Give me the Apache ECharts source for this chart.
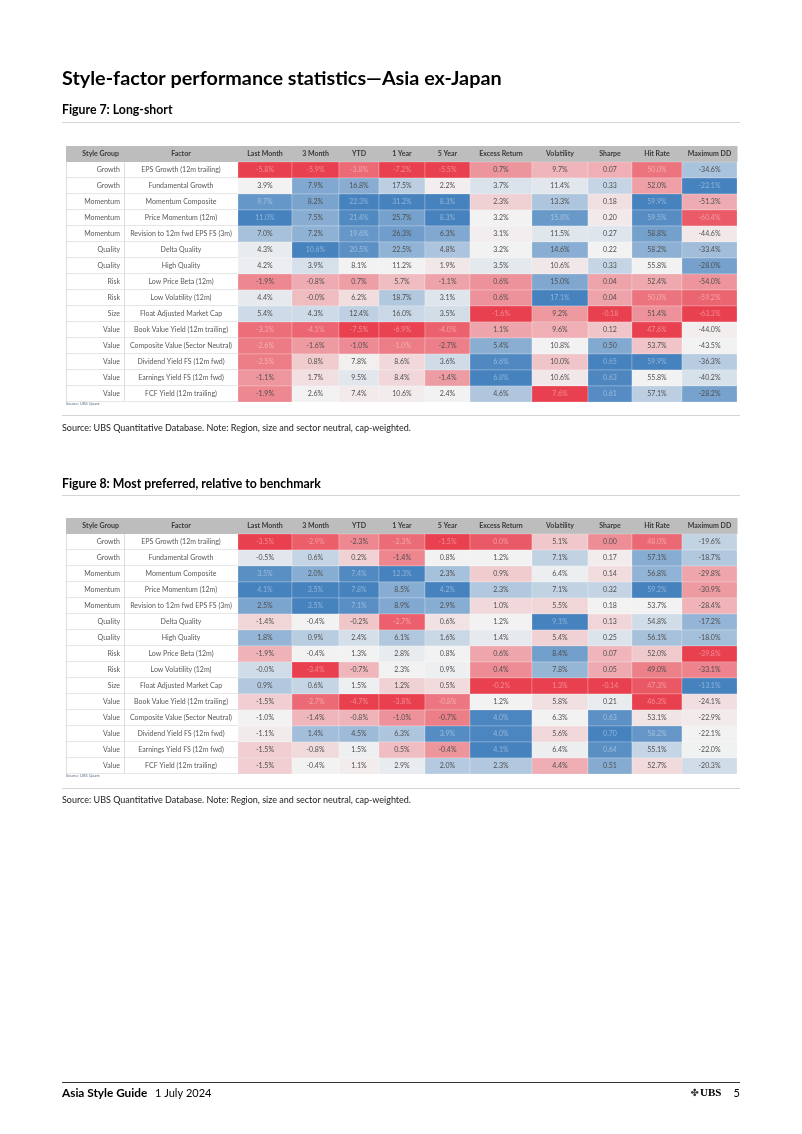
<!DOCTYPE html>
<html>
<head>
<meta charset="utf-8">
<script src="https://cdn.jsdelivr.net/npm/echarts@6.0.0/dist/echarts.min.js"></script>
<style>
html,body{margin:0;padding:0;background:#fff;}
#chart{width:802px;height:1134px;}
</style>
</head>
<body>
<div id="chart"></div>
<script>
// ---------- DATA ----------
const columns = ['Style Group','Factor','Last Month','3 Month','YTD','1 Year','5 Year','Excess Return','Volatility','Sharpe','Hit Rate','Maximum DD'];
const styleGroups = ['Growth','Growth','Momentum','Momentum','Momentum','Quality','Quality','Risk','Risk','Size','Value','Value','Value','Value','Value'];
const factors = ['EPS Growth (12m trailing)','Fundamental Growth','Momentum Composite','Price Momentum (12m)','Revision to 12m fwd EPS FS (3m)','Delta Quality','High Quality','Low Price Beta (12m)','Low Volatility (12m)','Float Adjusted Market Cap','Book Value Yield (12m trailing)','Composite Value (Sector Neutral)','Dividend Yield FS (12m fwd)','Earnings Yield FS (12m fwd)','FCF Yield (12m trailing)'];

// Figure 7: Long-short
const lsLastMonth = [-5.8, 3.9, 9.7, 11.0, 7.0, 4.3, 4.2, -1.9, 4.4, 5.4, -3.3, -2.6, -2.5, -1.1, -1.9];
const ls3Month    = [-5.9, 7.9, 8.2, 7.5, 7.2, 10.6, 3.9, -0.8, -0.0, 4.3, -4.1, -1.6, 0.8, 1.7, 2.6];
const lsYTD       = [-3.8, 16.8, 22.3, 21.4, 19.6, 20.5, 8.1, 0.7, 6.2, 12.4, -7.5, -1.0, 7.8, 9.5, 7.4];
const ls1Year     = [-7.2, 17.5, 31.2, 25.7, 26.3, 22.5, 11.2, 5.7, 18.7, 16.0, -6.9, -1.0, 8.6, 8.4, 10.6];
const ls5Year     = [-5.5, 2.2, 8.3, 8.3, 6.3, 4.8, 1.9, -1.1, 3.1, 3.5, -4.0, -2.7, 3.6, -1.4, 2.4];
const lsExcess    = [0.7, 3.7, 2.3, 3.2, 3.1, 3.2, 3.5, 0.6, 0.6, -1.6, 1.1, 5.4, 6.6, 6.8, 4.6];
const lsVol       = [9.7, 11.4, 13.3, 15.8, 11.5, 14.6, 10.6, 15.0, 17.1, 9.2, 9.6, 10.8, 10.0, 10.6, 7.6];
const lsSharpe    = [0.07, 0.33, 0.18, 0.20, 0.27, 0.22, 0.33, 0.04, 0.04, -0.18, 0.12, 0.50, 0.65, 0.63, 0.61];
const lsHitRate   = [50.0, 52.0, 59.9, 59.5, 58.8, 58.2, 55.8, 52.4, 50.0, 51.4, 47.6, 53.7, 59.9, 55.8, 57.1];
const lsMaxDD     = [-34.6, -22.1, -51.3, -60.4, -44.6, -33.4, -28.0, -54.0, -59.2, -63.3, -44.0, -43.5, -36.3, -40.2, -28.2];

// Figure 8: Most preferred, relative to benchmark
const mpLastMonth = [-3.5, -0.5, 3.5, 4.1, 2.5, -1.4, 1.8, -1.9, -0.0, 0.9, -1.5, -1.0, -1.1, -1.5, -1.5];
const mp3Month    = [-2.9, 0.6, 2.0, 3.5, 3.5, -0.4, 0.9, -0.4, -3.4, 0.6, -2.7, -1.4, 1.4, -0.8, -0.4];
const mpYTD       = [-2.3, 0.2, 7.4, 7.8, 7.1, -0.2, 2.4, 1.3, -0.7, 1.5, -4.7, -0.8, 4.5, 1.5, 1.1];
const mp1Year     = [-2.3, -1.4, 12.3, 8.5, 8.9, -2.7, 6.1, 2.8, 2.3, 1.2, -3.8, -1.0, 6.3, 0.5, 2.9];
const mp5Year     = [-1.5, 0.8, 2.3, 4.2, 2.9, 0.6, 1.6, 0.8, 0.9, 0.5, -0.8, -0.7, 3.9, -0.4, 2.0];
const mpExcess    = [0.0, 1.2, 0.9, 2.3, 1.0, 1.2, 1.4, 0.6, 0.4, -0.2, 1.2, 4.0, 4.0, 4.1, 2.3];
const mpVol       = [5.1, 7.1, 6.4, 7.1, 5.5, 9.1, 5.4, 8.4, 7.8, 1.3, 5.8, 6.3, 5.6, 6.4, 4.4];
const mpSharpe    = [0.00, 0.17, 0.14, 0.32, 0.18, 0.13, 0.25, 0.07, 0.05, -0.14, 0.21, 0.63, 0.70, 0.64, 0.51];
const mpHitRate   = [48.0, 57.1, 56.8, 59.2, 53.7, 54.8, 56.1, 52.0, 49.0, 47.3, 46.3, 53.1, 58.2, 55.1, 52.7];
const mpMaxDD     = [-19.6, -18.7, -29.8, -30.9, -28.4, -17.2, -18.0, -39.8, -33.1, -13.1, -24.1, -22.9, -22.1, -22.0, -20.3];

const longShort = [lsLastMonth, ls3Month, lsYTD, ls1Year, ls5Year, lsExcess, lsVol, lsSharpe, lsHitRate, lsMaxDD];
const mostPreferred = [mpLastMonth, mp3Month, mpYTD, mp1Year, mp5Year, mpExcess, mpVol, mpSharpe, mpHitRate, mpMaxDD];

// ---------- LAYOUT ----------
const colEdges = [0, 58, 172, 226, 273, 313, 359, 404, 466, 522, 566, 616, 671];
const TABLE_W = 671;
const SHARPE_COL = 7;
const FONT = 'Lato';

// 3-colour scale position (min -> 0, median -> 0.5, max -> 1), per column
function scalePos(arr) {
  const s = arr.slice().sort((a, b) => a - b);
  const min = s[0], max = s[s.length - 1], med = s[Math.floor(s.length / 2)];
  return arr.map(v => {
    if (v <= med) return med === min ? 0.5 : 0.5 * (v - min) / (med - min);
    return 0.5 + 0.5 * (v - med) / (max - med);
  });
}
function fmt(v, k) {
  const neg = v < 0 || Object.is(v, -0);
  const d = k === SHARPE_COL ? 2 : 1;
  return (neg ? '-' : '') + Math.abs(v).toFixed(d) + (k === SHARPE_COL ? '' : '%');
}
function buildHeat(table) {
  const data = [], labels = [];
  table.forEach((arr, k) => {
    const t = scalePos(arr);
    arr.forEach((v, r) => {
      data.push([k + 2, r + 1, v, t[r]]);
      labels.push(fmt(v, k));
    });
  });
  return { data, labels };
}
const heat1 = buildHeat(longShort);
const heat2 = buildHeat(mostPreferred);

function cellRect(api, c, row) {
  const p0 = api.coord([colEdges[c], row]);
  const p1 = api.coord([colEdges[c + 1], row]);
  const h = api.size([0, 1])[1];
  return { x: p0[0], y: p0[1] - h / 2, w: p1[0] - p0[0], h: h, cy: p0[1] };
}

function headerRender(params, api) {
  const c = api.value(0);
  const r = cellRect(api, c, 0);
  const right = c === 0;
  return {
    type: 'group', children: [
      { type: 'rect', shape: { x: r.x, y: r.y, width: r.w + 0.5, height: r.h }, style: { fill: '#bdbdbd' } },
      { type: 'text', style: { x: right ? r.x + r.w - 5 : r.x + r.w / 2, y: r.cy, text: columns[c], align: right ? 'right' : 'center', verticalAlign: 'middle', font: 'bold 7px ' + FONT, fill: '#3a3a3a' } }
    ]
  };
}
function textRender(params, api) {
  const row = api.value(1);
  const i = row - 1;
  const a = cellRect(api, 0, row), b = cellRect(api, 1, row);
  return {
    type: 'group', children: [
      { type: 'rect', shape: { x: a.x, y: a.y, width: a.w + b.w, height: a.h }, style: { fill: '#ffffff' } },
      { type: 'line', shape: { x1: a.x, y1: a.y + a.h - 0.5, x2: b.x + b.w, y2: a.y + a.h - 0.5 }, style: { stroke: '#e6e6e6', lineWidth: 1 } },
      { type: 'line', shape: { x1: a.x + 0.5, y1: a.y, x2: a.x + 0.5, y2: a.y + a.h }, style: { stroke: '#dedede', lineWidth: 1 } },
      { type: 'line', shape: { x1: b.x + 0.5, y1: a.y, x2: b.x + 0.5, y2: a.y + a.h }, style: { stroke: '#dedede', lineWidth: 1 } },
      { type: 'text', style: { x: a.x + a.w - 4, y: a.cy, text: styleGroups[i], align: 'right', verticalAlign: 'middle', font: '7px ' + FONT, fill: '#595959' } },
      { type: 'text', style: { x: b.x + b.w / 2, y: b.cy, text: factors[i], align: 'center', verticalAlign: 'middle', font: '7px ' + FONT, fill: '#595959' } }
    ]
  };
}
function makeHeatRender(labels) {
  return function (params, api) {
    const c = api.value(0), row = api.value(1);
    const r = cellRect(api, c, row);
    const fill = api.visual('color');
    const rgb = echarts.color.parse(fill) || [240, 240, 240, 1];
    const lum = 0.2126 * rgb[0] + 0.7152 * rgb[1] + 0.0722 * rgb[2];
    const txt = lum < 150 ? echarts.color.lerp(0.4, [fill, '#ffffff']) : '#505050';
    return {
      type: 'group', children: [
        { type: 'rect', shape: { x: r.x, y: r.y, width: r.w, height: r.h }, style: { fill: fill, stroke: 'rgba(255,255,255,0.45)', lineWidth: 0.5 } },
        { type: 'text', style: { x: r.x + r.w / 2, y: r.cy, text: labels[params.dataIndex], align: 'center', verticalAlign: 'middle', font: '7px ' + FONT, fill: txt } }
      ]
    };
  };
}

const rowCats = ['Header'].concat(factors.map((f, i) => 'r' + (i + 1)));
const headerData = columns.map((c, i) => [i, 0]);
const textData = factors.map((f, i) => [0, i + 1]);

function tableSeries(gi, heat) {
  return [
    { type: 'custom', xAxisIndex: gi, yAxisIndex: gi, renderItem: headerRender, data: headerData, silent: true },
    { type: 'custom', xAxisIndex: gi, yAxisIndex: gi, renderItem: textRender, data: textData, silent: true },
    { type: 'custom', xAxisIndex: gi, yAxisIndex: gi, renderItem: makeHeatRender(heat.labels), data: heat.data, silent: true }
  ];
}

const chart = echarts.init(document.getElementById('chart'), null, { renderer: 'canvas' });

const txt = (x, y, text, font, fill, align) => ({ type: 'text', x: x, y: y, silent: true, style: { text: text, font: font, fill: fill || '#000', align: align || 'left', verticalAlign: 'middle' } });
const hline = (x1, x2, y, color, w) => ({ type: 'line', silent: true, shape: { x1: x1, y1: y, x2: x2, y2: y }, style: { stroke: color, lineWidth: w || 1 } });

chart.setOption({
  animation: false,
  backgroundColor: '#ffffff',
  grid: [
    { left: 66, top: 146, width: TABLE_W, height: 256 },
    { left: 66, top: 518, width: TABLE_W, height: 256 }
  ],
  xAxis: [0, 1].map(g => ({ type: 'value', gridIndex: g, min: 0, max: TABLE_W, show: false })),
  yAxis: [0, 1].map(g => ({ type: 'category', gridIndex: g, data: rowCats, inverse: true, show: false })),
  visualMap: {
    type: 'continuous', show: false, dimension: 3, min: 0, max: 1,
    seriesIndex: [2, 5],
    inRange: { color: ['#E9404F', '#F2F2F2', '#4682BE'] }
  },
  series: tableSeries(0, heat1).concat(tableSeries(1, heat2)),
  graphic: [
    txt(62, 79, 'Style-factor performance statistics\u2014Asia ex-Japan', 'bold 19.8px ' + FONT, '#000'),
    txt(62, 110, 'Figure 7: Long-short', 'bold 12.3px ' + FONT, '#000'),
    hline(62, 740, 122.5, '#d4d4d4'),
    txt(66, 403.5, 'Source: UBS Quant', '4px ' + FONT, '#5f7186'),
    hline(62, 740, 415.5, '#d4d4d4'),
    txt(62, 428, 'Source: UBS Quantitative Database. Note: Region, size and sector neutral, cap-weighted.', '9px ' + FONT, '#1a1a1a'),
    txt(62, 484, 'Figure 8: Most preferred, relative to benchmark', 'bold 12.3px ' + FONT, '#000'),
    hline(62, 740, 495.5, '#d4d4d4'),
    txt(66, 775.5, 'Source: UBS Quant', '4px ' + FONT, '#5f7186'),
    hline(62, 740, 788.5, '#d4d4d4'),
    txt(62, 800, 'Source: UBS Quantitative Database. Note: Region, size and sector neutral, cap-weighted.', '9px ' + FONT, '#1a1a1a'),
    hline(62, 740, 1082.5, '#333333'),
    txt(62, 1093, 'Asia Style Guide', 'bold 11.8px ' + FONT, '#000'),
    txt(155, 1093, '1 July 2024', '11px ' + FONT, '#000'),
    txt(699, 1093, '\u2724', '10px "DejaVu Sans"', '#333', 'right'),
    txt(700, 1093, 'UBS', 'bold 11px "Liberation Serif"', '#000'),
    txt(740, 1093, '5', '11px ' + FONT, '#000', 'right')
  ]
});
</script>
</body>
</html>
